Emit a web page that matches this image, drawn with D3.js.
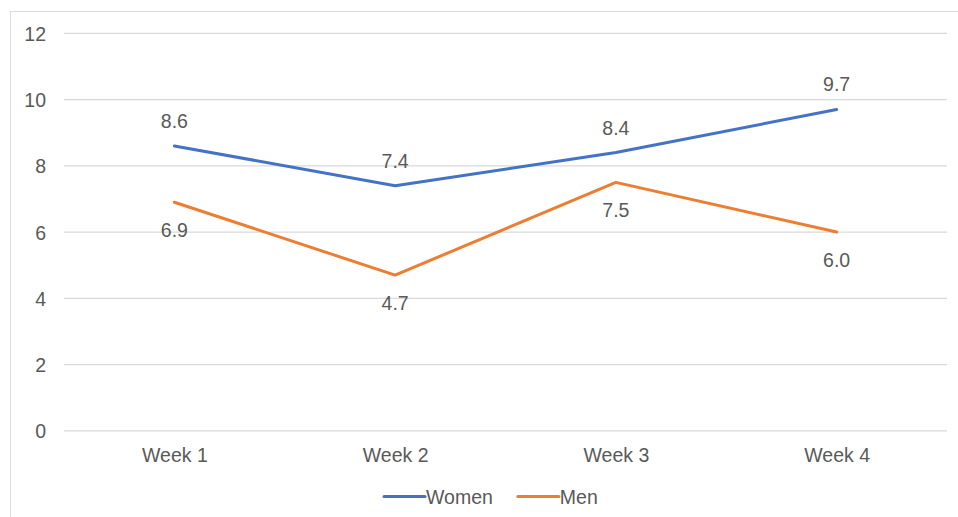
<!DOCTYPE html>
<html>
<head>
<meta charset="utf-8">
<script src="https://cdn.jsdelivr.net/npm/d3@7"></script>
<style>
  html, body { margin: 0; padding: 0; background: #fff; }
  svg { display: block; font-family: "Liberation Sans", Arial, sans-serif; }
</style>
</head>
<body>
<svg id="chart" width="958" height="517"></svg>
<script>
// Weekly averages by group
const weeks = ["Week 1", "Week 2", "Week 3", "Week 4"];
const women = [8.6, 7.4, 8.4, 9.7];
const men = [6.9, 4.7, 7.5, 6.0];
const yTicks = [0, 2, 4, 6, 8, 10, 12];
const seriesNames = ["Women", "Men"];
// label placement per point: above (-1) or below (+1) the marker
const womenLabelSide = [-1, -1, -1, -1];
const menLabelSide = [1, 1, 1, 1];

const colors = { Women: "#4472C4", Men: "#ED7D31" };
const textColor = "#595959";
const gridColor = "#d9d9d9";
const fontSize = 19.5;

const svg = d3.select("#chart");

// outer chart frame
svg.append("rect")
  .attr("x", 10.5).attr("y", 11.5)
  .attr("width", 960).attr("height", 520)
  .attr("fill", "none").attr("stroke", "#dcdcdc").attr("stroke-width", 1);

const plot = { left: 64, right: 947, top: 33.3, bottom: 430.8 };

const x = d3.scalePoint().domain(weeks).range([plot.left, plot.right]).padding(0.5);
const y = d3.scaleLinear().domain([0, 12]).range([plot.bottom, plot.top]);

// horizontal gridlines
svg.append("g")
  .selectAll("line")
  .data(yTicks)
  .join("line")
  .attr("x1", plot.left).attr("x2", plot.right)
  .attr("y1", d => y(d)).attr("y2", d => y(d))
  .attr("stroke", gridColor).attr("stroke-width", 1.3);

// y axis labels
const yAxis = d3.axisLeft(y).tickValues(yTicks).tickSize(0).tickPadding(0);
svg.append("g")
  .attr("transform", `translate(${plot.left - 18},0)`)
  .call(yAxis)
  .call(g => g.select(".domain").remove())
  .call(g => g.selectAll("text")
    .attr("fill", textColor).attr("font-size", fontSize).attr("dy", "0.36em")
    .attr("font-family", "Liberation Sans, Arial, sans-serif"));

// x axis labels
const xAxis = d3.axisBottom(x).tickSize(0).tickPadding(0);
svg.append("g")
  .attr("transform", `translate(0,${plot.bottom + 17})`)
  .call(xAxis)
  .call(g => g.select(".domain").remove())
  .call(g => g.selectAll("text")
    .attr("fill", textColor).attr("font-size", fontSize).attr("dy", "0.71em")
    .attr("font-family", "Liberation Sans, Arial, sans-serif"));

const line = d3.line()
  .x((d, i) => x(weeks[i]))
  .y(d => y(d));

const series = [
  { name: "Women", values: women, side: womenLabelSide },
  { name: "Men", values: men, side: menLabelSide }
];

series.forEach(s => {
  svg.append("path")
    .datum(s.values)
    .attr("d", line)
    .attr("fill", "none")
    .attr("stroke", colors[s.name])
    .attr("stroke-width", 3)
    .attr("stroke-linejoin", "round")
    .attr("stroke-linecap", "round");

  // value labels, baseline placed relative to the marker
  svg.append("g")
    .selectAll("text")
    .data(s.values)
    .join("text")
    .attr("x", (d, i) => x(weeks[i]))
    .attr("y", (d, i) => y(d) + (s.side[i] < 0 ? -18 : 35))
    .attr("text-anchor", "middle")
    .attr("fill", textColor)
    .attr("font-size", fontSize)
    .text(d => d.toFixed(1));
});

// legend
const legend = svg.append("g").attr("transform", "translate(384,496.5)");
let lx = 0;
seriesNames.forEach(name => {
  const item = legend.append("g").attr("transform", `translate(${lx},0)`);
  item.append("line")
    .attr("x1", 0).attr("x2", 41).attr("y1", 0).attr("y2", 0)
    .attr("stroke", colors[name]).attr("stroke-width", 3)
    .attr("stroke-linecap", "round");
  const t = item.append("text")
    .attr("x", 42).attr("y", 0)
    .attr("dy", "0.36em")
    .attr("fill", textColor).attr("font-size", fontSize)
    .text(name);
  lx += 42 + t.node().getComputedTextLength() + 25;
});
</script>
</body>
</html>
